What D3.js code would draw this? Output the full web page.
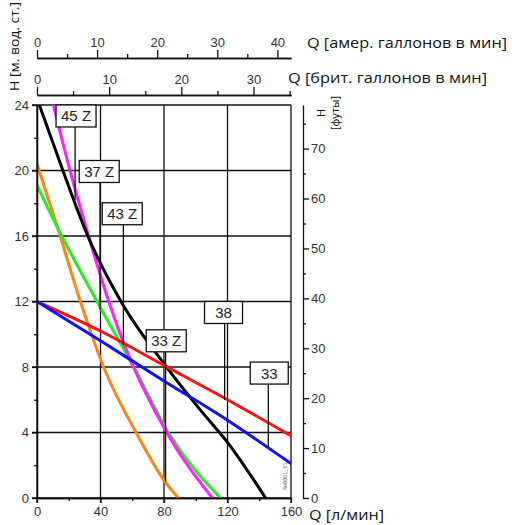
<!DOCTYPE html>
<html><head><meta charset="utf-8">
<script src="https://cdn.jsdelivr.net/npm/d3@7"></script>
<style>
body{margin:0;background:#fff}
svg{display:block}
.axis text{font-family:"Liberation Sans",Arial,sans-serif;font-size:13px;fill:#333}
.axis path,.axis line{stroke:#111;stroke-width:1.3}
</style>
</head><body>
<svg id="c" width="523" height="525"></svg>
<script>
// ---- data (flow in l/min, head in m) ----
const headTicks = [0, 4, 8, 12, 16, 20, 24];
const headMinor = [2, 6, 10, 14, 18, 22];
const flowTicks = [0, 40, 80, 120, 160];
const flowMinor = [20, 60, 100, 140];
const usgTicks = [0, 10, 20, 30, 40];
const usgMinor = [5, 15, 25, 35];
const ukgTicks = [0, 10, 20, 30];
const ukgMinor = [5, 15, 25, 35];
const feetTicks = [0, 10, 20, 30, 40, 50, 60, 70];
const feetMinor = [5, 15, 25, 35, 45, 55, 65, 75];

const curve33Z = [[0,20.4],[13,16.5],[27,12.1],[42.8,7.8],[62.4,4],[80.6,1.0],[89,0]];
const curve37Z = [[0,19.1],[14,16.3],[37.8,12],[62,7.8],[82.7,4],[115.5,0]];
const curve43Z = [[10.3,24],[20.8,20],[32.5,16],[45.2,12],[54.6,9.45],[81.7,4],[110.5,0]];
const curve45Z = [[1.5,24],[16.3,20],[32,16],[52.9,12],[80.8,8.1],[102.7,5.4],[120,3.4],[144,0]];
const curve38  = [[0,12],[40,10.2],[80,8.1],[120,6.0],[160,3.8]];
const curve33  = [[0,12],[40,9.6],[80,7.15],[120,4.75],[160,2.1]];

const seriesNames = ["33 Z", "37 Z", "43 Z", "45 Z", "38", "33"];
const seriesData = [curve33Z, curve37Z, curve43Z, curve45Z, curve38, curve33];
// label annotations: box centre (flow, head), leader flow, leader end head
const labelBoxFlow = [81.4, 39.2, 53.7, 24.6, 117.5, 146.3];
const labelBoxHead = [9.6, 19.94, 17.36, 23.33, 11.33, 7.63];
const leaderFlow   = [81, 39.7, 54.4, 24, 118.2, 145.7];
const leaderEndHead= [1.0, 11.5, 9.35, 18.2, 6.0, 3.1];

// ---- styles ----
const colors = ["#ff8413", "#22ee22", "#ff22ff", "#000000", "#ff1010", "#1010ff"];
const drawOrder = [0, 1, 2, 3, 4, 5];

const svg = d3.select('#c');
const x = d3.scaleLinear().domain([0,160]).range([37,291]);
const y = d3.scaleLinear().domain([0,24]).range([498,105]);
const LPM_USG = 3.78541, LPM_UKG = 4.54609, FT_M = 3.28084;
const xUS = d3.scaleLinear().domain([0,160/LPM_USG]).range([37,291]);
const xUK = d3.scaleLinear().domain([0,160/LPM_UKG]).range([37,291]);
const yFt = d3.scaleLinear().domain([0,24*FT_M]).range([498,105]);

// gridlines
const grid = svg.append('g').attr('stroke','#111').attr('stroke-width',1.3);
headTicks.forEach(h => grid.append('line').attr('x1',x(0)-5).attr('x2',x(160)).attr('y1',y(h)).attr('y2',y(h)));
flowTicks.forEach(q => grid.append('line').attr('x1',x(q)).attr('x2',x(q)).attr('y1',y(24)).attr('y2',y(0)+5));

// curves
svg.append('clipPath').attr('id','clip').append('rect')
  .attr('x',x(0)).attr('y',y(24)).attr('width',x(160)-x(0)).attr('height',y(0)-y(24));
const line = d3.line().x(d=>x(d[0])).y(d=>y(d[1])).curve(d3.curveMonotoneX);
const cg = svg.append('g').attr('clip-path','url(#clip)');
drawOrder.forEach(i => cg.append('path').attr('d', line(seriesData[i]))
  .attr('fill','none').attr('stroke',colors[i]).attr('stroke-width',3).attr('stroke-linecap','round'));

// axes
const axStyle = g => { g.attr('class','axis'); g.selectAll('.tick line').attr('stroke','#111'); g.select('.domain').attr('stroke','#111'); };
svg.append('g').attr('transform',`translate(${x(0)},0)`)
  .call(d3.axisLeft(y).tickValues(headTicks).tickSize(5).tickSizeOuter(0).tickPadding(3)).call(axStyle);
svg.append('g').attr('transform',`translate(${x(0)},0)`)
  .call(d3.axisLeft(y).tickValues(headMinor).tickSize(3).tickSizeOuter(0).tickFormat('')).call(axStyle);
svg.append('g').attr('transform',`translate(0,${y(0)})`)
  .call(d3.axisBottom(x).tickValues(flowTicks).tickSize(5).tickSizeOuter(0).tickPadding(4)).call(axStyle);
svg.append('g').attr('transform',`translate(0,${y(0)})`)
  .call(d3.axisBottom(x).tickValues(flowMinor).tickSize(3).tickSizeOuter(0).tickFormat('')).call(axStyle);

const rightX = 303;
const rg = svg.append('g').attr('transform',`translate(${rightX},0)`)
  .call(d3.axisRight(yFt).tickValues(feetTicks).tickSize(6).tickSizeOuter(0).tickPadding(2)).call(axStyle);
rg.select('.domain').attr('stroke','#555').attr('stroke-width',2);
rg.selectAll('.tick line').attr('stroke','#555');
svg.append('g').attr('transform',`translate(${rightX},0)`)
  .call(d3.axisRight(yFt).tickValues(feetMinor).tickSize(3).tickSizeOuter(0).tickFormat('')).call(axStyle)
  .call(g=>{g.select('.domain').remove(); g.selectAll('.tick line').attr('stroke','#555');});

const usY = 58, ukY = 95;
svg.append('g').attr('transform',`translate(0,${usY})`)
  .call(d3.axisTop(xUS).tickValues(usgTicks).tickSize(8).tickSizeOuter(0).tickPadding(3)).call(axStyle);
svg.append('g').attr('transform',`translate(0,${usY})`)
  .call(d3.axisTop(xUS).tickValues(usgMinor).tickSize(4).tickSizeOuter(0).tickFormat('')).call(axStyle);
svg.append('g').attr('transform',`translate(0,${ukY})`)
  .call(d3.axisTop(xUK).tickValues(ukgTicks).tickSize(8).tickSizeOuter(0).tickPadding(3)).call(axStyle);
svg.append('g').attr('transform',`translate(0,${ukY})`)
  .call(d3.axisTop(xUK).tickValues(ukgMinor).tickSize(4).tickSizeOuter(0).tickFormat('')).call(axStyle);

// labels with leaders
const lg = svg.append('g');
seriesNames.forEach((name,i) => {
  const cx = x(labelBoxFlow[i]), cy = y(labelBoxHead[i]);
  const w = name.length > 2 ? 40 : 38, h = 22;
  lg.append('line').attr('x1',x(leaderFlow[i])).attr('x2',x(leaderFlow[i]))
    .attr('y1',cy + h/2).attr('y2',y(leaderEndHead[i])).attr('stroke','#111').attr('stroke-width',1.3);
  lg.append('rect').attr('x',cx-w/2).attr('y',cy-h/2).attr('width',w).attr('height',h)
    .attr('fill','#fff').attr('stroke','#111').attr('stroke-width',1.3);
  lg.append('text').attr('x',cx).attr('y',cy+5.5).attr('text-anchor','middle')
    .attr('font-family','Liberation Sans, Arial, sans-serif').attr('font-size',15).attr('fill','#222')
    .text(name);
});

// titles
const tf = '"Open Sans", "Liberation Sans", sans-serif';
svg.append('text').attr('x',307).attr('y',48).attr('font-family',tf).attr('font-size',15).attr('fill','#111')
  .attr('textLength',200).attr('lengthAdjust','spacingAndGlyphs').text('Q [амер. галлонов в мин]');
svg.append('text').attr('x',288).attr('y',83).attr('font-family',tf).attr('font-size',15).attr('fill','#111')
  .attr('textLength',199).attr('lengthAdjust','spacingAndGlyphs').text('Q [брит. галлонов в мин]');
svg.append('text').attr('x',309).attr('y',520).attr('font-family',tf).attr('font-size',14).attr('fill','#111')
  .attr('textLength',75).attr('lengthAdjust','spacingAndGlyphs').text('Q [л/мин]');
svg.append('text').attr('transform','translate(19,91) rotate(-90)').attr('font-family',tf).attr('font-size',12)
  .attr('fill','#111').attr('textLength',89).attr('lengthAdjust','spacingAndGlyphs').text('H [м. вод. ст.]');
svg.append('text').attr('transform','translate(325,113) rotate(-90)').attr('text-anchor','middle')
  .attr('font-family',tf).attr('font-size',11).attr('fill','#111').text('H');
svg.append('text').attr('transform','translate(339,113) rotate(-90)').attr('text-anchor','middle')
  .attr('font-family',tf).attr('font-size',11).attr('fill','#111').text('[футы]');
svg.append('text').attr('transform','translate(287,490) rotate(-90)')
  .attr('font-family','Liberation Sans, Arial, sans-serif').attr('font-size',5.5).attr('fill','#556').text('4e8801_01');
</script>
</body></html>
